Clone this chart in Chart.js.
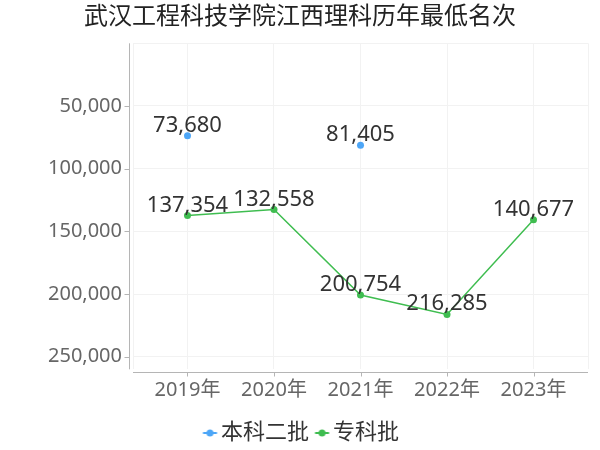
<!DOCTYPE html>
<html><head><meta charset="utf-8">
<script src="https://cdn.jsdelivr.net/npm/chart.js@4/dist/chart.umd.min.js"></script>
<style>html,body{margin:0;padding:0;background:#fff}#wrap{width:600px;height:450px;position:relative}</style>
</head><body><div id="wrap"><canvas id="c"></canvas></div>
<script>
const chartTitle = '武汉工程科技学院江西理科历年最低名次';
const years = ['2019年', '2020年', '2021年', '2022年', '2023年'];
const seriesNames = ['本科二批', '专科批'];
const benke2 = [73680, null, 81405, null, null];
const zhuanke = [137354, 132558, 200754, 216285, 140677];
const yTickValues = [0, 50000, 100000, 150000, 200000, 250000];
const yMin = 0, yMax = 260000;
const xPad = 0.63;

const FONT = '"Noto Sans", "Noto Sans CJK SC", sans-serif';
const colors = ['#4da6f7', '#3fbd50'];

function legendMarker(color) {
  const c = document.createElement('canvas');
  c.width = 28; c.height = 10;
  const g = c.getContext('2d');
  g.strokeStyle = color; g.lineWidth = 2;
  g.beginPath(); g.moveTo(11.5, 5); g.lineTo(25.5, 5); g.stroke();
  g.fillStyle = color; g.beginPath(); g.arc(18.5, 5, 3.5, 0, Math.PI * 2); g.fill();
  return c;
}
const markers = colors.map(legendMarker);

const fmt = v => v.toLocaleString('en-US');

const decor = {
  id: 'decor',
  beforeDatasetsDraw(chart) {
    const {ctx, chartArea: a, scales: {x, y}} = chart;
    ctx.save();
    ctx.strokeStyle = '#b5b5b5'; ctx.lineWidth = 1;
    ctx.beginPath();
    const ax = Math.round(a.left - 4) + 0.5;
    ctx.moveTo(ax, a.top); ctx.lineTo(ax, a.bottom);
    yTickValues.forEach(v => {
      if (v === 0) return;
      const py = Math.round(y.getPixelForValue(v)) + 0.5;
      ctx.moveTo(ax - 5, py); ctx.lineTo(ax, py);
    });
    const ay = Math.round(a.bottom + 3) + 0.5;
    ctx.moveTo(a.left, ay); ctx.lineTo(a.right, ay);
    years.forEach((_, i) => {
      const px = Math.round(x.getPixelForValue(i)) + 0.5;
      ctx.moveTo(px, ay); ctx.lineTo(px, ay + 4);
    });
    ctx.stroke();
    ctx.restore();
  },
  afterDatasetsDraw(chart) {
    const {ctx} = chart;
    ctx.save();
    ctx.font = '22px ' + FONT;
    ctx.fillStyle = '#333';
    ctx.textAlign = 'center';
    ctx.textBaseline = 'alphabetic';
    chart.data.datasets.forEach((ds, di) => {
      const meta = chart.getDatasetMeta(di);
      meta.data.forEach((pt, i) => {
        const v = ds.data[i].y;
        if (v === null || v === undefined) return;
        ctx.fillText(fmt(v), pt.x, pt.y - 4);
      });
    });
    ctx.restore();
  }
};

const seriesValues = [benke2, zhuanke];

new Chart(document.getElementById('c'), {
  type: 'line',
  data: {
    datasets: seriesValues.map((vals, si) => ({
      label: seriesNames[si],
      data: vals.map((v, i) => ({x: i, y: v})),
      borderColor: colors[si],
      backgroundColor: colors[si],
      borderWidth: 1.5,
      pointRadius: 3.5,
      pointHoverRadius: 3.5,
      pointBorderWidth: 0,
      spanGaps: false,
      fill: false,
      tension: 0
    }))
  },
  options: {
    responsive: true,
    maintainAspectRatio: false,
    animation: false,
    events: [],
    layout: {padding: {left: 0, right: 0, top: 0, bottom: 0}},
    plugins: {
      title: {
        display: true, text: chartTitle, color: '#222',
        font: {family: FONT, size: 24, weight: 'normal'},
        padding: {top: 3, bottom: 11.5}
      },
      legend: {
        position: 'bottom',
        maxHeight: 32,
        labels: {
          usePointStyle: true, pointStyleWidth: 9, padding: 4,
          color: '#333', font: {family: FONT, size: 22},
          generateLabels(chart) {
            const items = Chart.defaults.plugins.legend.labels.generateLabels(chart);
            items.forEach((it, i) => { it.pointStyle = markers[i]; });
            return items;
          }
        }
      },
      tooltip: {enabled: false}
    },
    scales: {
      x: {
        type: 'linear', min: -xPad, max: years.length - 1 + xPad,
        afterBuildTicks(s) { s.ticks = [{value: -xPad}].concat(years.map((_, i) => ({value: i})), [{value: years.length - 1 + xPad}]); },
        afterFit(s) { s.height = 48.7; },
        border: {display: false},
        grid: {color: '#f2f2f2', drawTicks: false, lineWidth: 1},
        ticks: {
          autoSkip: false, maxRotation: 0, padding: 9, color: '#666',
          font: {family: FONT, size: 20},
          callback: v => (Number.isInteger(v) && years[v] !== undefined) ? years[v] : ''
        }
      },
      y: {
        type: 'linear', reverse: true, min: yMin, max: yMax,
        afterBuildTicks(s) { s.ticks = yTickValues.map(v => ({value: v})).concat([{value: yMax}]); },
        afterFit(s) { s.width = 133; },
        border: {display: false},
        grid: {
          drawTicks: false, lineWidth: 1,
          color: c => (c.tick && c.tick.value === yMax) ? 'rgba(0,0,0,0)' : '#f2f2f2'
        },
        ticks: {
          padding: 11, color: '#666', font: {family: FONT, size: 20},
          callback: v => (v !== 0 && yTickValues.includes(v)) ? fmt(v) : ''
        }
      },
      yR: {
        type: 'linear', position: 'right', display: true,
        afterFit(s) { s.width = 12; },
        border: {display: false}, grid: {display: false}, ticks: {display: false}
      }
    }
  },
  plugins: [decor]
});
</script>
</body></html>
